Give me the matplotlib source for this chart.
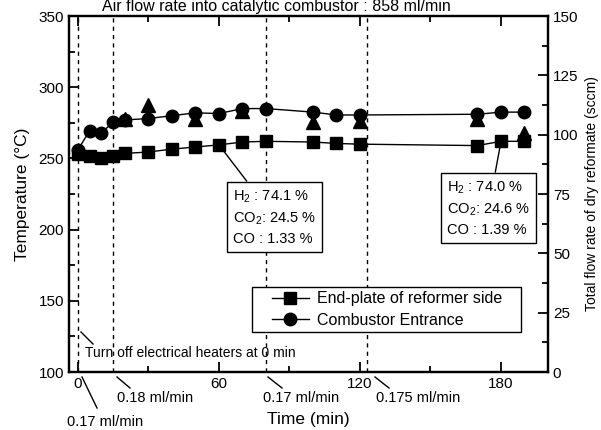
import matplotlib
matplotlib.use("Agg")
import matplotlib.pyplot as plt
from matplotlib.ticker import MultipleLocator
from matplotlib.lines import Line2D
from matplotlib.patches import Rectangle

plt.rcParams['font.family'] = ['Liberation Sans', 'DejaVu Sans']
plt.rcParams['mathtext.fontset'] = 'custom'
plt.rcParams['mathtext.rm'] = 'Liberation Sans'
plt.rcParams['mathtext.it'] = 'Liberation Sans'

# ---- data ----
time_sq = [0, 5, 10, 15, 20, 30, 40, 50, 60, 70, 80, 100, 110, 120, 170, 180, 190]
temp_endplate = [253, 252, 250, 252, 253.5, 254.5, 256.5, 258, 259.5, 261.5, 262,
                 261.5, 260.5, 260, 259, 262, 262]
time_ci = [0, 5, 10, 15, 20, 30, 40, 50, 60, 70, 80, 100, 110, 120, 170, 180, 190]
temp_combustor = [256, 269.5, 268, 275.5, 277, 278, 280, 282, 281.5, 285, 285,
                  282.5, 280.5, 280.5, 281, 282.5, 282.5]
time_tri = [20, 30, 50, 70, 100, 120, 170, 190]
temp_tri = [278, 287.5, 278, 283, 275.5, 276.5, 277.5, 267.5]
change_times = [0, 15, 80, 123]
flow_labels = ['0.17 ml/min', '0.18 ml/min', '0.17 ml/min', '0.175 ml/min']
comp1 = ['74.1', '24.5', '1.33']
comp2 = ['74.0', '24.6', '1.39']

W, H = 601, 430
fig = plt.figure(figsize=(W / 100, H / 100), dpi=100)
L, R, T, B = 69, 548, 16, 372
ax = fig.add_axes([L / W, 1 - B / H, (R - L) / W, (B - T) / H])

ax.set_xlim(-3.8, 200)
ax.set_ylim(100, 350)

for t in change_times:
    ax.axvline(t, color='black', ls=(0, (3, 3)), lw=1.0, zorder=1)

ax.plot(time_sq, temp_endplate, color='black', marker='s', ms=8.5, lw=1.0,
        label='End-plate of reformer side', zorder=3)
ax.plot(time_ci, temp_combustor, color='black', marker='o', ms=9, lw=1.0,
        label='Combustor Entrance', zorder=3)
ax.plot(time_tri, temp_tri, color='black', marker='^', ms=9.5, lw=0, zorder=3)

ax.xaxis.set_major_locator(MultipleLocator(60))
ax.xaxis.set_minor_locator(MultipleLocator(30))
ax.yaxis.set_major_locator(MultipleLocator(50))
ax.yaxis.set_minor_locator(MultipleLocator(25))
ax.tick_params(which='both', direction='in', top=True, width=1.3, labelsize=11)
ax.tick_params(which='major', length=7)
ax.tick_params(which='minor', length=4)
for s in ax.spines.values():
    s.set_linewidth(1.6)

ax.set_xlabel('Time (min)', fontsize=12.5, labelpad=15)
ax.set_ylabel('Temperature (°C)', fontsize=12.5, labelpad=6)

ax2 = ax.twinx()
ax2.set_ylim(0, 150)
ax2.yaxis.set_major_locator(MultipleLocator(25))
ax2.yaxis.set_minor_locator(MultipleLocator(12.5))
ax2.tick_params(which='both', direction='in', width=1.3, labelsize=11)
ax2.tick_params(which='major', length=7)
ax2.tick_params(which='minor', length=4)
ax2.set_ylabel('Total flow rate of dry reformate (sccm)', fontsize=10, labelpad=5)
for s in ax2.spines.values():
    s.set_linewidth(1.6)

# legend frame drawn separately so the inner padding can match the reference
ax.add_patch(Rectangle((0.382, 0.1124), 0.5616, 0.1264, transform=ax.transAxes,
                       fc='white', ec='black', lw=1.0, zorder=4))
leg = ax.legend(loc='center left', bbox_to_anchor=(0.4238, 0.1756), fontsize=11.5,
                borderaxespad=0, frameon=False, handlelength=2.3,
                borderpad=0, labelspacing=0.42, handletextpad=0.5)
leg.set_zorder(5)

def px2data(x, y):
    return ((x - 78) / 2.35, 350 - (y - 16) / 1.428)

def comp_text(c):
    return ('H$_2$ : %s %%\nCO$_2$: %s %%\nCO : %s %%' % tuple(c))

bx, by = px2data(233, 218)
ax.annotate(comp_text(comp1), xy=(60, temp_endplate[8]), xytext=(bx, by),
            fontsize=10.5, va='center', ha='left', linespacing=1.45,
            bbox=dict(boxstyle='square,pad=0.4', fc='white', ec='black', lw=1.0),
            arrowprops=dict(arrowstyle='-', color='black', lw=1.0,
                            shrinkA=0, shrinkB=4), zorder=6)
bx, by = px2data(447, 209)
ax.annotate(comp_text(comp2), xy=(180, temp_endplate[15]), xytext=(bx, by),
            fontsize=10.5, va='center', ha='left', linespacing=1.45,
            bbox=dict(boxstyle='square,pad=0.4', fc='white', ec='black', lw=1.0),
            arrowprops=dict(arrowstyle='-', color='black', lw=1.0,
                            shrinkA=0, shrinkB=4), zorder=6)

def fig_line(p0, p1):
    fig.add_artist(Line2D([p0[0] / W, p1[0] / W], [1 - p0[1] / H, 1 - p1[1] / H],
                          color='black', lw=1.0, transform=fig.transFigure))

fig.text(85 / W, 1 - 353 / H, 'Turn off electrical heaters at 0 min',
         fontsize=10, ha='left', va='center')
fig_line((81, 332), (93, 344))

# flow-rate labels below the axis
flow_pos = [(67, 422), (117, 398), (263, 398), (376, 398)]
arrow_pts = [((97, 408), (82, 377)), ((130, 388), (117, 377)),
             ((282, 388), (268, 377)), ((389, 388), (375, 377))]
for lab, (px, py), (p0, p1) in zip(flow_labels, flow_pos, arrow_pts):
    fig.text(px / W, 1 - py / H, lab, fontsize=10.5, ha='left', va='center')
    fig_line(p0, p1)

fig.text(276 / W, 1 - 11 / H, 'Air flow rate into catalytic combustor : 858 ml/min',
         fontsize=11.5, ha='center', va='baseline')

fig.savefig('out.png', dpi=100)
